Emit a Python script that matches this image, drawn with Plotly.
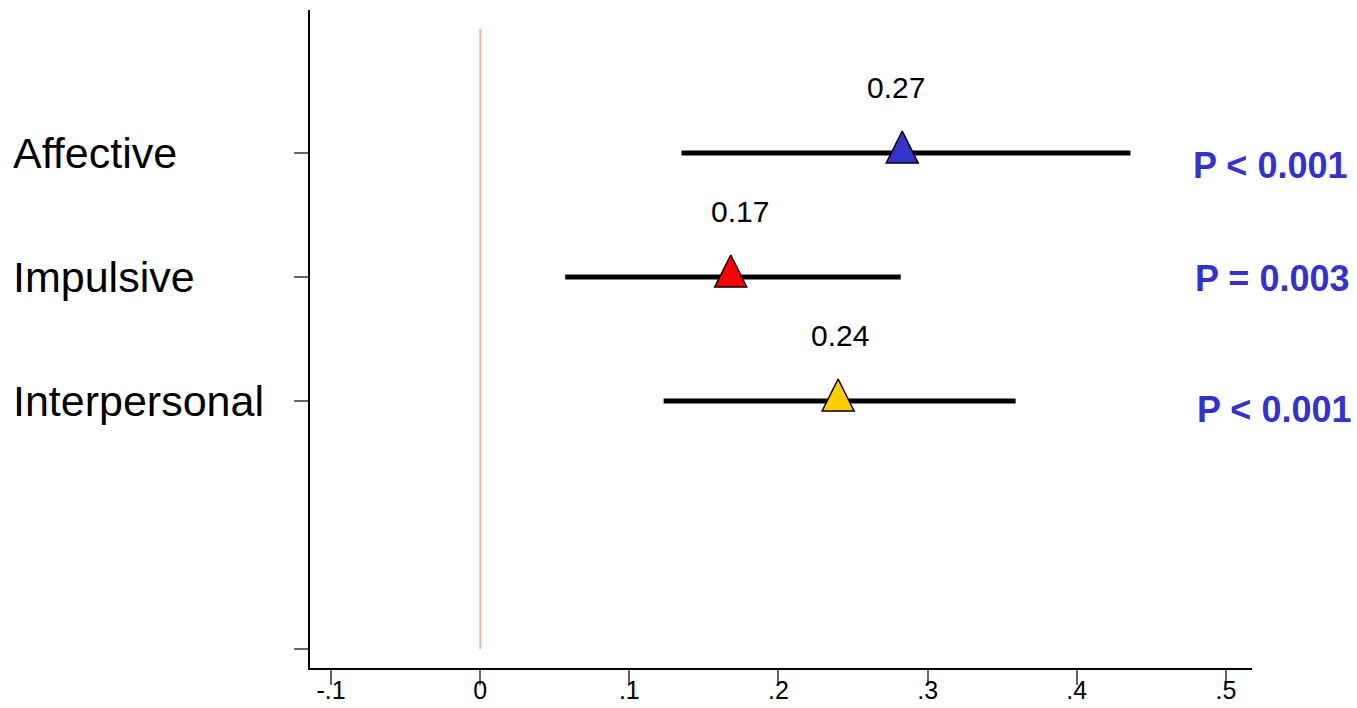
import plotly.graph_objects as go

categories = ["Affective", "Impulsive", "Interpersonal"]
y_pos = [4, 3, 2]
estimates = [0.283, 0.168, 0.240]
ci_low = [0.135, 0.057, 0.123]
ci_high = [0.436, 0.282, 0.359]
colors = ["#3333cc", "#ff0000", "#ffcc00"]
est_labels = ["0.27", "0.17", "0.24"]
label_x = [0.279, 0.174, 0.241]
p_labels = ["P < 0.001", "P = 0.003", "P < 0.001"]
p_y = [3.90, 2.99, 1.93]
p_xpx = [1349, 1351, 1353]
x_ticks = [-0.1, 0, 0.1, 0.2, 0.3, 0.4, 0.5]
x_ticktext = ["-.1", "0", ".1", ".2", ".3", ".4", ".5"]

W, H = 1357, 708
ml, mr, mt, mb = 310, 105, 10, 40
pw = W - ml - mr
ph = H - mt - mb
yr = [-0.153, 5.153]
px_per_unit = ph / (yr[1] - yr[0])
shift = 22 / px_per_unit

fig = go.Figure()

# reference line at zero
fig.add_trace(go.Scatter(x=[0, 0], y=[0, 5], mode="lines",
                         line=dict(color="#f5a3a3", width=1.5),
                         hoverinfo="skip", showlegend=False))

for i in range(len(categories)):
    fig.add_trace(go.Scatter(x=[ci_low[i], ci_high[i]], y=[y_pos[i], y_pos[i]],
                             mode="lines", line=dict(color="black", width=5),
                             showlegend=False))
for i in range(len(categories)):
    fig.add_trace(go.Scatter(x=[estimates[i]], y=[y_pos[i]], mode="markers",
                             yaxis="y2",
                             marker=dict(symbol="arrow-up", size=32, color=colors[i],
                                         line=dict(color="black", width=1.5)),
                             showlegend=False))

annotations = []
for i, c in enumerate(categories):
    annotations.append(dict(text=c, xref="paper", x=(11 - ml) / pw, xanchor="left",
                            yref="y", y=y_pos[i], yanchor="middle", showarrow=False,
                            font=dict(family="Liberation Sans, Arial", size=43, color="black")))
    annotations.append(dict(text=est_labels[i], xref="x", x=label_x[i], xanchor="center",
                            yref="y", y=y_pos[i] + 0.53, yanchor="middle", showarrow=False,
                            font=dict(family="Liberation Sans, Arial", size=30, color="black")))
    annotations.append(dict(text="<b>" + p_labels[i] + "</b>", xref="paper",
                            x=(p_xpx[i] - ml) / pw, xanchor="right",
                            yref="y", y=p_y[i], yanchor="middle", showarrow=False,
                            font=dict(family="Liberation Sans, Arial", size=36, color="#3333cc")))

fig.update_layout(
    width=W, height=H,
    margin=dict(l=ml, r=mr, t=mt, b=mb, autoexpand=False),
    plot_bgcolor="white", paper_bgcolor="white",
    showlegend=False,
    annotations=annotations,
    xaxis=dict(range=[-0.1141, 0.5175], tickvals=x_ticks, ticktext=x_ticktext,
               showgrid=False, zeroline=False, showline=True, linecolor="black",
               linewidth=1.5, ticks="outside", ticklen=15, tickcolor="#666666",
               tickwidth=1.5, automargin=False, ticklabelstandoff=-16,
               tickfont=dict(family="Liberation Sans, Arial", size=25, color="black")),
    yaxis=dict(range=yr, tickvals=[0, 2, 3, 4], showticklabels=False,
               showgrid=False, zeroline=False, showline=True, linecolor="black",
               linewidth=1.5, ticks="outside", ticklen=14, tickcolor="#666666",
               tickwidth=1.5, automargin=False),
    yaxis2=dict(range=[yr[0] - shift, yr[1] - shift], overlaying="y", visible=False),
)

fig.write_html("out.html")
